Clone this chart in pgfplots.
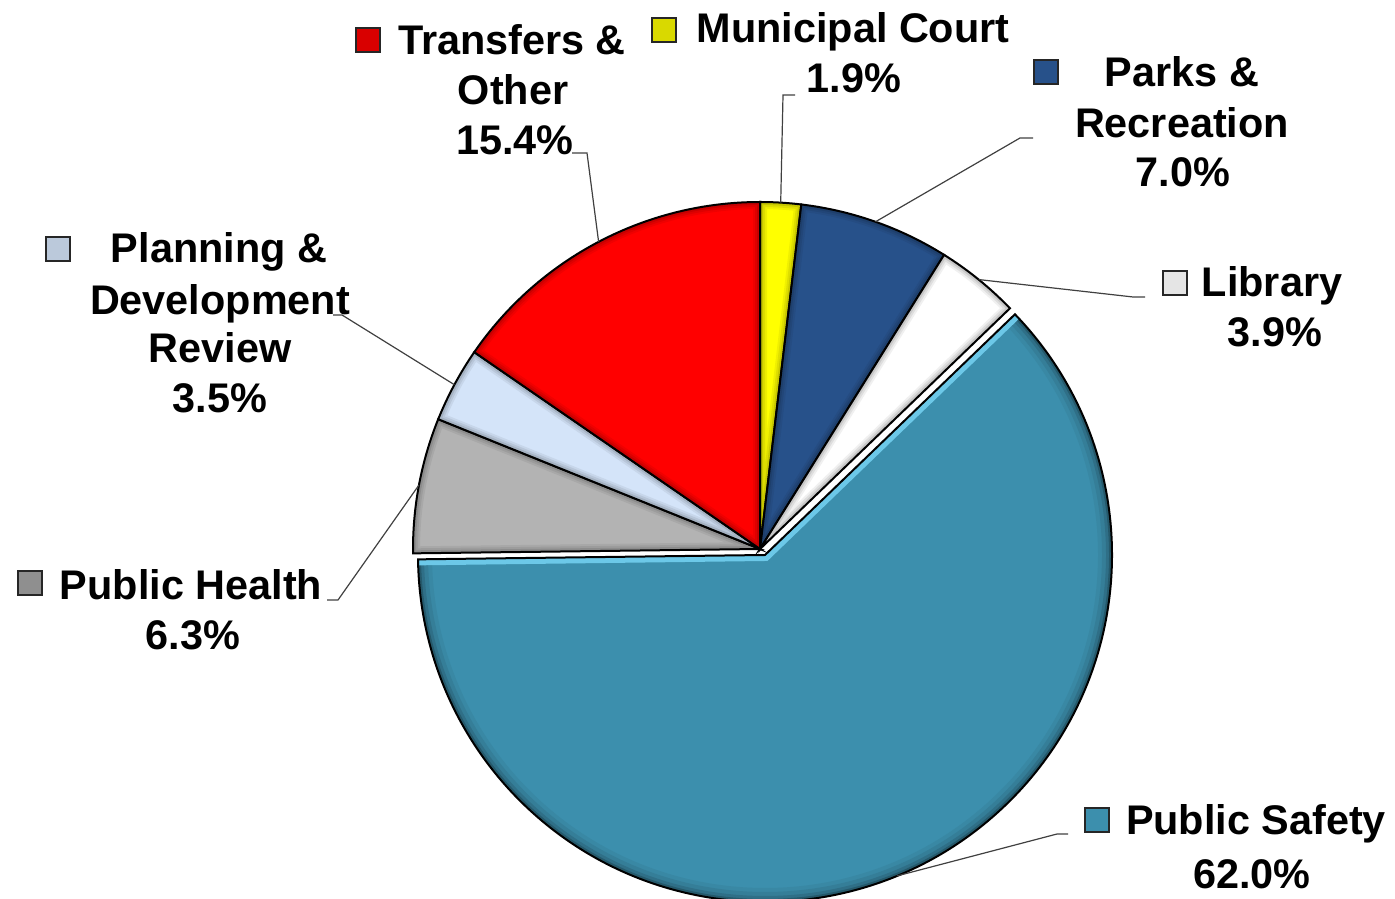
\documentclass[border=0pt]{standalone}
\usepackage{pgfplots}
\pgfplotsset{compat=1.18}
\usepackage{fontspec}
\setmainfont{Liberation Sans}
\definecolor{cTR}{HTML}{FF0000}
\definecolor{cMC}{HTML}{FFFF00}
\definecolor{cPR}{HTML}{27518A}
\definecolor{cLB}{HTML}{FFFFFF}
\definecolor{cPS}{HTML}{3C8FAD}
\definecolor{cPSl}{HTML}{6CC8E8}
\definecolor{cPH}{HTML}{B3B3B3}
\definecolor{cPD}{HTML}{D4E4F9}
\newcommand\lblfont{\fontsize{20.7pt}{25pt}\selectfont\bfseries}
\begin{document}
\begin{tikzpicture}
% shares (percent), clockwise from 12 o'clock
\def\vMC{1.9}\def\vPR{7.0}\def\vLB{3.9}\def\vPS{62.0}\def\vPH{6.3}\def\vPD{3.5}\def\vTR{15.4}
\pgfmathsetmacro\aA{90}
\pgfmathsetmacro\aB{\aA-3.6*\vMC}
\pgfmathsetmacro\aC{\aB-3.6*\vPR}
\pgfmathsetmacro\aD{\aC-3.6*\vLB}
\pgfmathsetmacro\aE{\aD-3.6*\vPS}
\pgfmathsetmacro\aF{\aE-3.6*\vPH}
\pgfmathsetmacro\aG{\aF-3.6*\vPD}
\pgfmathsetmacro\aH{\aG-3.6*\vTR}
\pgfmathsetmacro\mMC{(\aA+\aB)/2}
\pgfmathsetmacro\mPR{(\aB+\aC)/2}
\pgfmathsetmacro\mLB{(\aC+\aD)/2}
\pgfmathsetmacro\mPS{(\aD+\aE)/2}
\pgfmathsetmacro\mPH{(\aE+\aF)/2}
\pgfmathsetmacro\mPD{(\aF+\aG)/2}
\pgfmathsetmacro\mTR{(\aG+\aH)/2}
\def\R{173.5pt}
\newcommand\slicepath[4]{(axis cs:#3,#4) -- ++(#1:\R) arc[start angle=#1,end angle=#2,radius=\R] -- cycle}
\newcommand\slice[5]{%
  \begin{scope}
    \clip \slicepath{#2}{#3}{#4}{#5};
    \fill[#1] \slicepath{#2}{#3}{#4}{#5};
    \draw[line width=7pt,#1!94!black] \slicepath{#2}{#3}{#4}{#5};
    \draw[line width=5pt,#1!87!black] \slicepath{#2}{#3}{#4}{#5};
    \draw[line width=3pt,#1!78!black] \slicepath{#2}{#3}{#4}{#5};
  \end{scope}
  \draw[line width=1pt,black] \slicepath{#2}{#3}{#4}{#5};}
\useasboundingbox (0,0) rectangle (697.5pt,449pt);
\begin{axis}[at={(0,0)},anchor=south west,scale only axis,
  width=697.5pt,height=449pt,xmin=0,xmax=1395,ymin=0,ymax=898,
  hide axis,clip=false]
% slices
\slice{cMC}{\aA}{\aB}{760}{349}
\slice{cPR}{\aB}{\aC}{760}{349}
\slice{cLB}{\aC}{\aD}{760}{349}
\slice{cPH}{\aE}{\aF}{760}{349}
\slice{cPD}{\aF}{\aG}{760}{349}
\slice{cTR}{\aG}{\aH}{760}{349}
% public safety (pulled out slightly)
\begin{scope}
  \clip \slicepath{\aD}{\aE}{765}{343};
  \fill[cPS] \slicepath{\aD}{\aE}{765}{343};
  \draw[line width=14pt,cPS!95!black] (axis cs:765,343) ++(\aD:\R) arc[start angle=\aD,end angle=\aE,radius=\R];
  \draw[line width=10pt,cPS!88!black] (axis cs:765,343) ++(\aD:\R) arc[start angle=\aD,end angle=\aE,radius=\R];
  \draw[line width=6pt,cPS!78!black] (axis cs:765,343) ++(\aD:\R) arc[start angle=\aD,end angle=\aE,radius=\R];
  \draw[line width=3pt,cPS!62!black] (axis cs:765,343) ++(\aD:\R) arc[start angle=\aD,end angle=\aE,radius=\R];
  \draw[line width=6pt,cPSl] (axis cs:765,343) ++(\aD:\R) -- (axis cs:765,343) -- ++(\aE:\R);
\end{scope}
\draw[line width=1pt,black] \slicepath{\aD}{\aE}{765}{343};
% leader lines
\tikzset{leader/.style={line width=0.6pt,black!75}}
\draw[leader] ([shift={(\mTR:\R)}]axis cs:760,349) -- (axis cs:587,745) -- (axis cs:572,745);
\draw[leader] ([shift={(\mMC:\R)}]axis cs:760,349) -- (axis cs:783,803) -- (axis cs:795,803);
\draw[leader] ([shift={(\mPR:\R)}]axis cs:760,349) -- (axis cs:1020,760) -- (axis cs:1033,760);
\draw[leader] ([shift={(\mLB:\R)}]axis cs:760,349) -- (axis cs:1133,601) -- (axis cs:1145,601);
\draw[leader] ([shift={(\mPS:\R)}]axis cs:765,343) -- (axis cs:1057,64) -- (axis cs:1068,64);
\draw[leader] ([shift={(\mPH:\R)}]axis cs:760,349) -- (axis cs:338,298) -- (axis cs:327,298);
\draw[leader] ([shift={(\mPD:\R)}]axis cs:760,349) -- (axis cs:342,583) -- (axis cs:333,583);
% legend keys
\tikzset{key/.style={only marks,mark=square*,mark size=5.8pt,mark options={fill=#1,draw=black!85,line width=1pt}}}
\addplot[key=cTR!85!black] coordinates {(368,858)};
\addplot[key=cMC!85!black] coordinates {(664,868)};
\addplot[key=cPR] coordinates {(1046,826)};
\addplot[key=black!10] coordinates {(1175,615)};
\addplot[key=cPS] coordinates {(1097,78)};
\addplot[key=cPH!80!black] coordinates {(30,315)};
\addplot[key=cPD!88!black] coordinates {(58,649)};
% labels
\tikzset{lbl/.style={anchor=base,inner sep=0pt,font=\lblfont}}
\node[lbl] at (axis cs:512,843) {Transfers \&};
\node[lbl] at (axis cs:513,793) {Other};
\node[lbl] at (axis cs:515,743) {15.4\%};
\node[lbl] at (axis cs:853,855) {Municipal Court};
\node[lbl] at (axis cs:854,805) {1.9\%};
\node[lbl] at (axis cs:1182,811) {Parks \&};
\node[lbl] at (axis cs:1182,760) {Recreation};
\node[lbl] at (axis cs:1183,711) {7.0\%};
\node[lbl] at (axis cs:1272,601) {Library};
\node[lbl] at (axis cs:1275,551) {3.9\%};
\node[lbl] at (axis cs:219,635) {Planning \&};
\node[lbl] at (axis cs:220,583) {Development};
\node[lbl] at (axis cs:220,535) {Review};
\node[lbl] at (axis cs:220,485) {3.5\%};
\node[lbl] at (axis cs:191,298) {Public Health};
\node[lbl] at (axis cs:193,248) {6.3\%};
\node[lbl] at (axis cs:1256,63) {Public Safety};
\node[lbl] at (axis cs:1252,10) {62.0\%};
\end{axis}
\end{tikzpicture}
\end{document}
